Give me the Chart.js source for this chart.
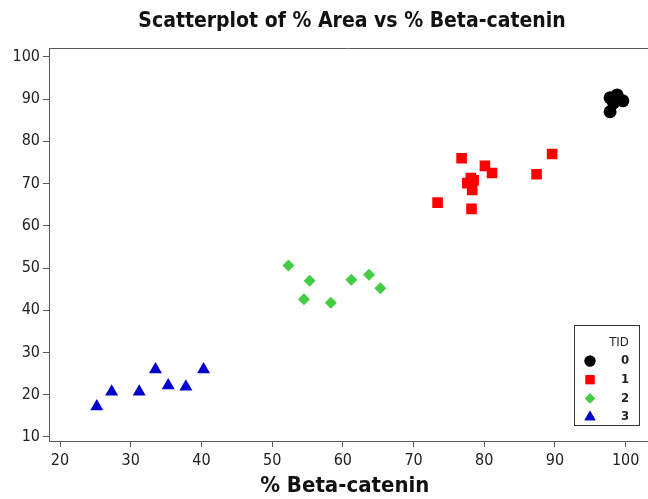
<!DOCTYPE html>
<html>
<head>
<meta charset="utf-8">
<script src="https://cdn.jsdelivr.net/npm/chart.js@4/dist/chart.umd.min.js"></script>
<style>
  html, body { margin: 0; padding: 0; background: #fff; }
  #wrap { width: 648px; height: 499px; position: relative; }
</style>
</head>
<body>
<div id="wrap"><canvas id="chart"></canvas></div>
<script>
// Scatterplot of % Area vs % Beta-catenin, grouped by TID

const TITLE = "Scatterplot of % Area vs % Beta-catenin";
const X_TITLE = "% Beta-catenin";
const LEGEND_TITLE = "TID";
const TID_LABELS = ["0", "1", "2", "3"];

const tid0X = [97.8, 98.8, 99.6, 98.3, 97.8];
const tid0Y = [90.3, 91.0, 89.6, 89.1, 87.0];

const tid1X = [76.8, 80.1, 81.1, 78.1, 77.6, 78.3, 78.5, 73.4, 78.2, 87.4, 89.6];
const tid1Y = [76.0, 74.2, 72.5, 71.3, 70.1, 68.5, 70.8, 65.5, 64.0, 72.2, 77.0];

const tid2X = [52.3, 55.3, 54.5, 58.3, 61.2, 63.7, 65.3];
const tid2Y = [50.6, 47.0, 42.6, 41.8, 47.2, 48.4, 45.2];

const tid3X = [33.5, 40.3, 27.3, 31.2, 35.3, 37.8, 25.2];
const tid3Y = [26.0, 26.0, 20.7, 20.7, 22.2, 21.9, 17.2];

const xTicks = [20, 30, 40, 50, 60, 70, 80, 90, 100];
const yTicks = [10, 20, 30, 40, 50, 60, 70, 80, 90, 100];

const palette = {
  axis: "#5a5a5a",
  text: "#222",
  tid0: "#000000",
  tid1: "#ff0000",
  tid2: "#44cc44",
  tid3: "#0000cc",
};

const FONT = "'DejaVu Sans Condensed', 'DejaVu Sans', sans-serif";

function pts(xs, ys) {
  return xs.map((x, i) => ({ x, y: ys[i] }));
}

function series(label, xs, ys, color, style, radius) {
  return {
    label,
    data: pts(xs, ys),
    backgroundColor: color,
    borderColor: color,
    borderWidth: 0,
    pointStyle: style,
    pointRadius: radius,
    pointHoverRadius: radius,
  };
}

// top frame line, title and TID legend box drawn straight on the canvas
const decorations = {
  id: "decorations",
  afterDraw(chart) {
    const { ctx, chartArea: a, width } = chart;
    ctx.save();
    ctx.strokeStyle = palette.axis;
    ctx.lineWidth = 1;
    ctx.beginPath();
    // frame runs off the right edge of the picture
    ctx.moveTo(a.left, a.top + 0.5);
    ctx.lineTo(width, a.top + 0.5);
    ctx.moveTo(a.right - 1, a.bottom + 0.5);
    ctx.lineTo(width, a.bottom + 0.5);
    ctx.stroke();

    ctx.fillStyle = "#111";
    ctx.font = `bold 21px ${FONT}`;
    ctx.textAlign = "center";
    ctx.textBaseline = "middle";
    ctx.fillText(TITLE, 352, 22);

    // legend
    const bx = 574, by = 325, bw = 65, bh = 100;
    ctx.fillStyle = "#fff";
    ctx.fillRect(bx, by, bw, bh);
    ctx.strokeStyle = "#333";
    ctx.strokeRect(bx + 0.5, by + 0.5, bw, bh);
    ctx.fillStyle = palette.text;
    ctx.font = `13px ${FONT}`;
    ctx.textAlign = "center";
    ctx.fillText(LEGEND_TITLE, 619, 343);
    chart.data.datasets.forEach((ds, i) => {
      const y = 361 + i * 18.7;
      ctx.fillStyle = ds.backgroundColor;
      Chart.helpers.drawPoint(ctx, { pointStyle: ds.pointStyle, radius: ds.pointRadius * 0.85, borderWidth: 0 }, 590, y);
      ctx.fill();
      ctx.fillStyle = palette.text;
      ctx.font = `bold 13px ${FONT}`;
      ctx.fillText(TID_LABELS[i], 625, y);
    });
    ctx.restore();
  },
};

new Chart(document.getElementById("chart"), {
  type: "scatter",
  data: {
    datasets: [
      series(TID_LABELS[0], tid0X, tid0Y, palette.tid0, "circle", 6.5),
      series(TID_LABELS[1], tid1X, tid1Y, palette.tid1, "rect", 7.5),
      series(TID_LABELS[2], tid2X, tid2Y, palette.tid2, "rectRot", 6),
      series(TID_LABELS[3], tid3X, tid3Y, palette.tid3, "triangle", 7.5),
    ],
  },
  options: {
    animation: false,
    responsive: true,
    maintainAspectRatio: false,
    layout: { padding: { top: 48, right: 0, left: 0, bottom: 0 } },
    scales: {
      x: {
        type: "linear",
        min: 18.44,
        max: 102.1,
        afterFit: (s) => { s.height = 58; },
        afterBuildTicks: (s) => { s.ticks = xTicks.map((v) => ({ value: v })); },
        ticks: { color: palette.text, font: { family: FONT, size: 16 }, padding: 4, maxRotation: 0 },
        grid: { drawOnChartArea: false, drawTicks: true, tickLength: 6, color: palette.axis },
        border: { display: true, color: palette.axis },
        title: { display: true, text: X_TITLE, color: "#111", font: { family: FONT, size: 22, weight: "bold" }, padding: { top: 0, bottom: 0 } },
      },
      y: {
        type: "linear",
        min: 9.05,
        max: 102.1,
        afterFit: (s) => { s.width = 49; },
        afterBuildTicks: (s) => { s.ticks = yTicks.map((v) => ({ value: v })); },
        ticks: { color: palette.text, font: { family: FONT, size: 16 }, padding: 3 },
        grid: { drawOnChartArea: false, drawTicks: true, tickLength: 6, color: palette.axis },
        border: { display: true, color: palette.axis },
      },
    },
    plugins: {
      legend: { display: false },
      tooltip: { enabled: false },
    },
  },
  plugins: [decorations],
});
</script>
</body>
</html>
